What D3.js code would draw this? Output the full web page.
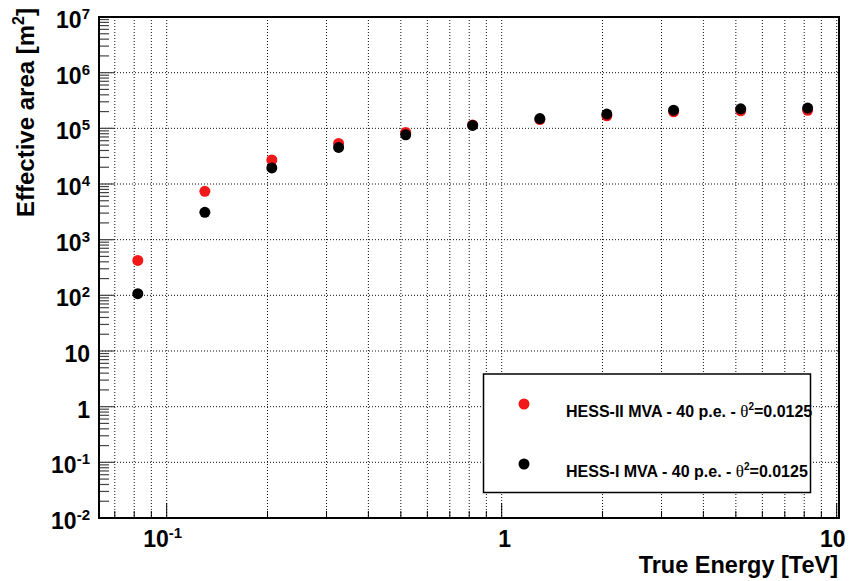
<!DOCTYPE html>
<html>
<head>
<meta charset="utf-8">
<script src="https://cdn.jsdelivr.net/npm/d3@7"></script>
<style>
  body { margin: 0; background: #fff; }
  text { font-family: "Liberation Sans", Arial, sans-serif; font-weight: bold; }
</style>
</head>
<body>
<div id="chart"></div>
<script>
// True energy bin centres [TeV]
const energy = [0.082, 0.130, 0.206, 0.326, 0.517, 0.819, 1.30, 2.06, 3.26, 5.17, 8.19];
// Effective area [m^2]
const hess2Area = [423, 7380, 27000, 53600, 84300, 115000, 144000, 168000, 198000, 207000, 211000];
const hess1Area = [107, 3100, 19400, 45400, 76700, 113000, 150000, 180000, 212000, 224000, 231000];

const yExponents = [-2, -1, 0, 1, 2, 3, 4, 5, 6, 7];
const xExponents = [-1, 0, 1];

const seriesNames = ["HESS-II MVA - 40 p.e. - ", "HESS-I MVA - 40 p.e. - "];
const seriesColors = ["#f01818", "#000"];

const W = 854, H = 581;
const margin = { top: 17, right: 15, bottom: 63, left: 99 },
  width = W - margin.left - margin.right,
  height = H - margin.top - margin.bottom;

const svg = d3.select("#chart").append("svg").attr("width", W).attr("height", H);
const g = svg.append("g").attr("transform", `translate(${margin.left},${margin.top})`);

const x = d3.scaleLog().domain([0.0628, 10.16]).range([0, width]);
const y = d3.scaleLog().domain([0.01, 1e7]).range([height, 0]);

// tick positions
const xTicks = [];
for (let e = -2; e <= 1; e++) for (let m = 1; m <= 9; m++) {
  const v = m * Math.pow(10, e);
  if (v > x.domain()[0] && v < x.domain()[1]) xTicks.push({ v, major: m === 1 });
}
const yTicks = [];
for (let e = -2; e <= 6; e++) for (let m = 1; m <= 9; m++) {
  yTicks.push({ v: m * Math.pow(10, e), major: m === 1 });
}

// grid: every x tick, y only at decades
g.selectAll(".vgrid").data(xTicks).enter().append("line")
  .attr("x1", d => x(d.v)).attr("x2", d => x(d.v))
  .attr("y1", 0).attr("y2", height)
  .attr("stroke", "#111").attr("stroke-width", 1).attr("stroke-dasharray", "1,2");
g.selectAll(".hgrid").data(yExponents.slice(1, -1)).enter().append("line")
  .attr("x1", 0).attr("x2", width)
  .attr("y1", d => y(Math.pow(10, d))).attr("y2", d => y(Math.pow(10, d)))
  .attr("stroke", "#111").attr("stroke-width", 1).attr("stroke-dasharray", "1,2");

// ticks
g.selectAll(".xt").data(xTicks).enter().append("line")
  .attr("x1", d => x(d.v)).attr("x2", d => x(d.v))
  .attr("y1", height).attr("y2", d => height - (d.major ? 15 : 7))
  .attr("stroke", "#000").attr("stroke-width", 1);
g.selectAll(".yt").data(yTicks).enter().append("line")
  .attr("x1", 0).attr("x2", d => (d.major ? 15 : 10))
  .attr("y1", d => y(d.v)).attr("y2", d => y(d.v))
  .attr("stroke", "#444").attr("stroke-width", 1.2);

// tick labels
function powLabel(sel, e) {
  if (e === 0) { sel.append("tspan").text("1"); return; }
  if (e === 1) { sel.append("tspan").text("10"); return; }
  sel.append("tspan").text("10");
  sel.append("tspan").attr("dy", -9).attr("font-size", 15).text(e);
}
yExponents.forEach(e => {
  const t = svg.append("text")
    .attr("x", 90).attr("y", margin.top + y(Math.pow(10, e)) + 11)
    .attr("text-anchor", "end").attr("font-size", 23);
  powLabel(t, e);
});
xExponents.forEach(e => {
  const t = svg.append("text")
    .attr("x", margin.left + x(Math.pow(10, e)) + (e === 0 ? 3 : -4))
    .attr("y", 547)
    .attr("text-anchor", "middle").attr("font-size", 23);
  powLabel(t, e);
});

// axis titles
svg.append("text").attr("x", 838).attr("y", 573).attr("text-anchor", "end")
  .attr("font-size", 23.5).text("True Energy [TeV]");
const yt = svg.append("text").attr("transform", "translate(34,8) rotate(-90)")
  .attr("text-anchor", "end").attr("font-size", 24);
yt.append("tspan").text("Effective area [m");
yt.append("tspan").attr("dy", -10).attr("font-size", 16).text("2");
yt.append("tspan").attr("dy", 10).text("]");

// data points: HESS-II first, HESS-I on top
[hess2Area, hess1Area].forEach((arr, i) => {
  g.selectAll(".pt" + i).data(energy).enter().append("circle")
    .attr("cx", d => x(d))
    .attr("cy", (d, j) => y(arr[j]))
    .attr("r", 5.5)
    .attr("fill", seriesColors[i]);
});

// frame
g.append("rect").attr("width", width).attr("height", height)
  .attr("fill", "none").attr("stroke", "#000").attr("stroke-width", 2);

// legend
const lg = svg.append("g");
lg.append("rect").attr("x", 483.5).attr("y", 374).attr("width", 327).attr("height", 118.5)
  .attr("fill", "#fff").attr("stroke", "#000").attr("stroke-width", 1.5);
seriesNames.forEach((name, i) => {
  const cy = 404 + i * 60;
  lg.append("circle").attr("cx", 524).attr("cy", cy).attr("r", 5.5).attr("fill", seriesColors[i]);
  const t = lg.append("text").attr("x", 566).attr("y", cy + 12.5).attr("font-size", 16)
    .style("white-space", "pre");
  t.append("tspan").text(name);
  t.append("tspan").attr("font-family", "Liberation Serif, serif").attr("font-weight", "normal")
    .attr("font-size", 17).text("θ");
  t.append("tspan").attr("dy", -7).attr("font-size", 10).text("2");
  t.append("tspan").attr("dy", 7).text("=0.0125");
});
</script>
</body>
</html>
